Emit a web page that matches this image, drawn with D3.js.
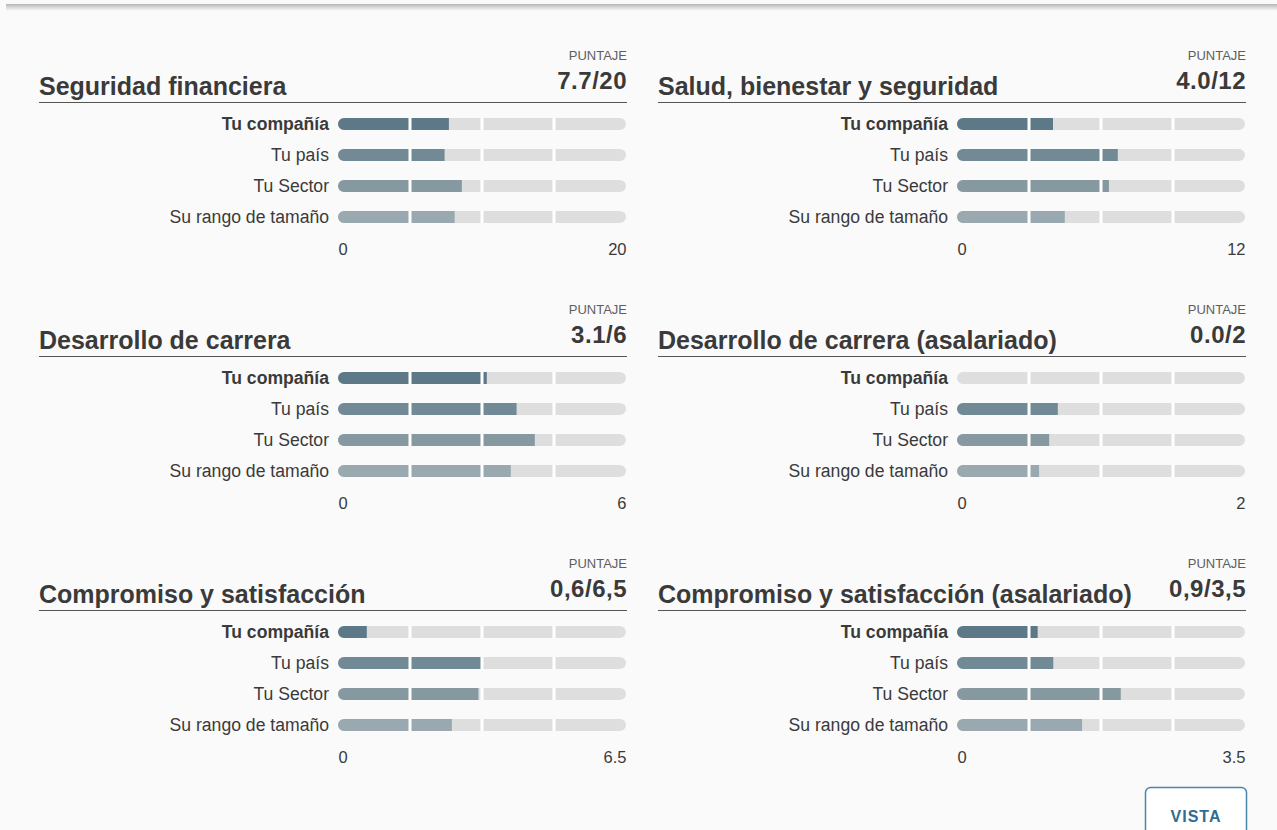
<!DOCTYPE html>
<html>
<head>
<meta charset="utf-8">
<script src="https://cdn.jsdelivr.net/npm/d3@7"></script>
<style>
  html, body { margin: 0; padding: 0; background: #fafafa; }
  svg { display: block; }
  text { font-family: "Liberation Sans", Arial, Helvetica, sans-serif; }
</style>
</head>
<body>
<svg id="chart" width="1277" height="830"></svg>
<script>
// ---- data ----
const panelTitles = [
  "Seguridad financiera",
  "Salud, bienestar y seguridad",
  "Desarrollo de carrera",
  "Desarrollo de carrera (asalariado)",
  "Compromiso y satisfacción",
  "Compromiso y satisfacción (asalariado)"
];
const panelScores = ["7.7/20", "4.0/12", "3.1/6", "0.0/2", "0,6/6,5", "0,9/3,5"];
const panelMax = [20, 12, 6, 2, 6.5, 3.5];
const maxTickLabels = ["20", "12", "6", "2", "6.5", "3.5"];
const minTickLabels = ["0", "0", "0", "0", "0", "0"];
const rowLabels = ["Tu compañía", "Tu país", "Tu Sector", "Su rango de tamaño"];
const companyValues = [7.7, 4.0, 3.1, 0.0, 0.65, 0.98];
const countryValues = [7.4, 6.7, 3.72, 0.70, 3.25, 1.17];
const sectorValues  = [8.6, 6.33, 4.1, 0.64, 3.17, 1.99];
const sizeValues    = [8.1, 4.49, 3.6, 0.57, 2.57, 1.52];
const scoreHeader = "PUNTAJE";
const buttonLabel = "VISTA";

// ---- style ----
const rowColors = ["#5d7887", "#718a95", "#8699a1", "#99a9af"];
const trackColor = "#dedede";
const textColor = "#3a3a3a";

const svg = d3.select("#chart");

// top border with shadow
const defs = svg.append("defs");
const grad = defs.append("linearGradient").attr("id", "topShadow").attr("x1", 0).attr("y1", 0).attr("x2", 0).attr("y2", 1);
grad.append("stop").attr("offset", "0%").attr("stop-color", "#b4b4b4");
grad.append("stop").attr("offset", "40%").attr("stop-color", "#d4d4d4");
grad.append("stop").attr("offset", "100%").attr("stop-color", "#fafafa");
svg.append("rect").attr("x", 6).attr("y", 4).attr("width", 1271).attr("height", 7).attr("fill", "url(#topShadow)");

const colOffsets = [0, 619];
const rowOffsets = [0, 254, 508];
const barH = 12;
const rowStep = 31;

panelTitles.forEach((title, i) => {
  const col = i % 2, row = Math.floor(i / 2);
  const g = svg.append("g").attr("transform", `translate(${colOffsets[col]},${rowOffsets[row]})`);
  const left = 39, right = 627;
  const x = d3.scaleLinear().domain([0, panelMax[i]]).range([338, 626]);

  g.append("text").attr("x", right).attr("y", 59.5).attr("text-anchor", "end")
    .attr("font-size", 13).attr("fill", "#5e5e5e")
    .text(scoreHeader);
  g.append("text").attr("x", right).attr("y", 88.5).attr("text-anchor", "end")
    .attr("font-size", 24).attr("font-weight", "bold").attr("fill", textColor).attr("letter-spacing", 0.5)
    .text(panelScores[i]);
  g.append("text").attr("x", left).attr("y", 95)
    .attr("font-size", 25).attr("font-weight", "bold").attr("fill", textColor)
    .text(title);
  g.append("line").attr("x1", left).attr("x2", right).attr("y1", 102.5).attr("y2", 102.5)
    .attr("stroke", "#555").attr("stroke-width", 1);

  const vals = [companyValues[i], countryValues[i], sectorValues[i], sizeValues[i]];
  const clipId = "clip" + i;
  defs.append("clipPath").attr("id", clipId).selectAll("rect").data(vals).join("rect")
    .attr("x", x(0)).attr("y", (d, k) => 124 + k * rowStep - barH / 2)
    .attr("width", x(panelMax[i]) - x(0)).attr("height", barH)
    .attr("rx", barH / 2).attr("ry", barH / 2);

  const bars = g.append("g").attr("clip-path", `url(#${clipId})`);
  bars.selectAll("rect.track").data(vals).join("rect").attr("class", "track")
    .attr("x", x(0)).attr("y", (d, k) => 124 + k * rowStep - barH / 2)
    .attr("width", x(panelMax[i]) - x(0)).attr("height", barH).attr("fill", trackColor);
  bars.selectAll("rect.fill").data(vals).join("rect").attr("class", "fill")
    .attr("x", x(0)).attr("y", (d, k) => 124 + k * rowStep - barH / 2)
    .attr("width", d => x(d) - x(0)).attr("height", barH)
    .attr("fill", (d, k) => rowColors[k]);
  const quarters = [1, 2, 3].map(q => panelMax[i] * q / 4);
  bars.selectAll("rect.gap").data(quarters).join("rect").attr("class", "gap")
    .attr("x", d => x(d) - 1.5).attr("y", 124 - barH).attr("width", 3)
    .attr("height", rowStep * 3 + barH * 2).attr("fill", "#ffffff");

  g.selectAll("text.rowlabel").data(rowLabels).join("text").attr("class", "rowlabel")
    .attr("x", 329).attr("y", (d, k) => 124 + k * rowStep + 6).attr("text-anchor", "end")
    .attr("font-size", 17.6).attr("font-weight", (d, k) => k === 0 ? "bold" : "normal")
    .attr("fill", textColor).text(d => d);

  const axis = d3.axisBottom(x).tickValues([0, panelMax[i]]).tickSize(0)
    .tickFormat((d, k) => k === 0 ? minTickLabels[i] : maxTickLabels[i]);
  const ax = g.append("g").attr("transform", "translate(0,240)").call(axis);
  ax.select(".domain").remove();
  ax.selectAll("text").attr("font-size", 16.5).attr("fill", textColor)
    .attr("font-family", "'Liberation Sans', Arial, sans-serif")
    .attr("text-anchor", (d, k) => k === 0 ? "start" : "end");
});

// VISTA button
svg.append("rect").attr("x", 1145.5).attr("y", 787.5).attr("width", 101).attr("height", 60)
  .attr("rx", 5).attr("fill", "#ffffff").attr("stroke", "#4a86a8").attr("stroke-width", 1.5);
svg.append("text").attr("x", 1196).attr("y", 822).attr("text-anchor", "middle")
  .attr("font-size", 16).attr("font-weight", "bold").attr("fill", "#2f6d92").attr("letter-spacing", 1)
  .text(buttonLabel);
</script>
</body>
</html>
